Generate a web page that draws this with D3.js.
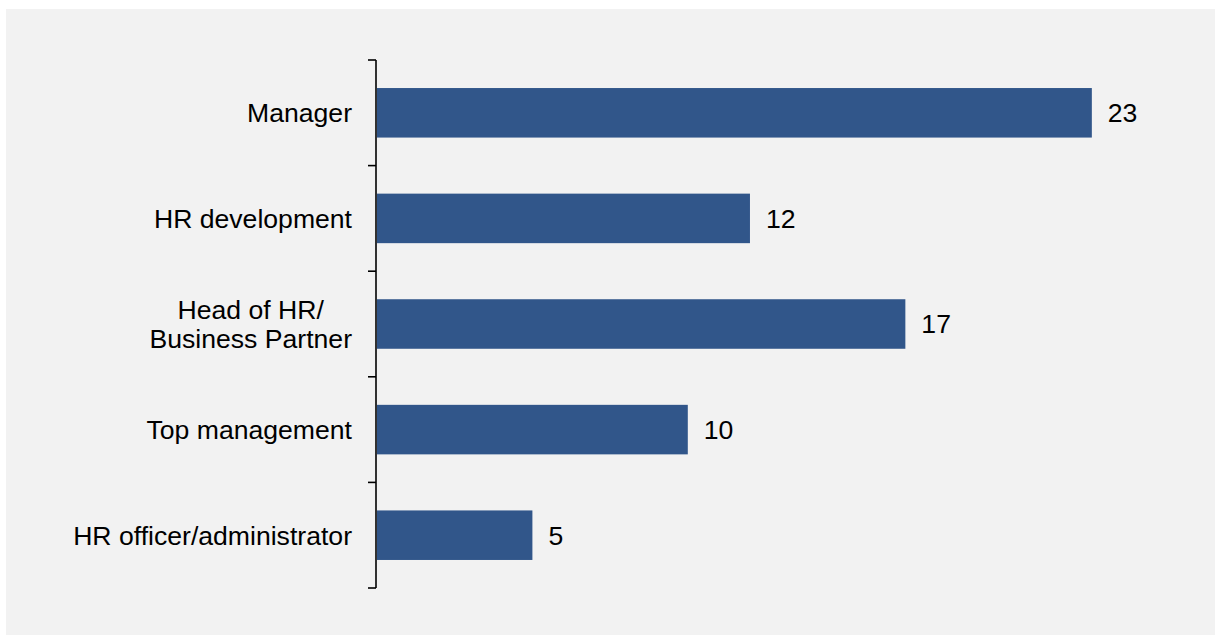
<!DOCTYPE html>
<html>
<head>
<meta charset="utf-8">
<script src="https://cdn.jsdelivr.net/npm/d3@7"></script>
<style>
  html, body { margin: 0; padding: 0; background: #ffffff; }
  svg { display: block; }
  text { font-family: "Liberation Sans", Arial, sans-serif; }
</style>
</head>
<body>
<svg id="chart" width="1218" height="635"></svg>
<script>
// Role categories (top to bottom) and their counts
const categories = [
  ["Manager"],
  ["HR development"],
  ["Head of HR/", "Business Partner"],
  ["Top management"],
  ["HR officer/administrator"]
];
const values = [23, 12, 17, 10, 5];

const W = 1218, H = 635;
const FS = 26.6;
const svg = d3.select("#chart");

// Panel background
svg.append("rect")
  .attr("x", 6).attr("y", 9)
  .attr("width", 1209).attr("height", 626)
  .attr("fill", "#f2f2f2");

const keys = categories.map(c => c.join(" "));
const plot = { left: 376, top: 60, bottom: 588 };

const y = d3.scaleBand()
  .domain(keys)
  .range([plot.top, plot.bottom])
  .paddingInner(0.531)
  .paddingOuter(0.2655);

const x = d3.scaleLinear()
  .domain([0, 25])
  .range([plot.left + 1, plot.left + 1 + 777]);

// Bars
svg.append("g").selectAll("rect")
  .data(values)
  .join("rect")
  .attr("x", x(0))
  .attr("y", (d, i) => y(keys[i]))
  .attr("width", d => x(d) - x(0))
  .attr("height", y.bandwidth())
  .attr("fill", "#31568a");

// Value labels
svg.append("g").selectAll("text")
  .data(values)
  .join("text")
  .attr("x", d => x(d) + 16)
  .attr("y", (d, i) => y(keys[i]) + y.bandwidth() / 2)
  .attr("dy", "0.35em")
  .attr("font-size", FS)
  .attr("fill", "#000")
  .text(d => d);

// Category axis: spine with ticks at band boundaries
const axis = svg.append("g");
const step = y.step();
const bounds = d3.range(keys.length + 1).map(i => plot.top + i * step);
axis.append("line")
  .attr("x1", plot.left).attr("x2", plot.left)
  .attr("y1", plot.top).attr("y2", plot.bottom)
  .attr("stroke", "#000").attr("stroke-width", 1.6);
axis.selectAll("line.tick")
  .data(bounds)
  .join("line")
  .attr("class", "tick")
  .attr("x1", plot.left - 8).attr("x2", plot.left)
  .attr("y1", d => d).attr("y2", d => d)
  .attr("stroke", "#000").attr("stroke-width", 1.6);

// Category labels, right-aligned block, lines centred within the block
const lineH = 29;
categories.forEach((lines, i) => {
  const cy = y(keys[i]) + y.bandwidth() / 2;
  const g = svg.append("g");
  const t = g.append("text")
    .attr("font-size", FS)
    .attr("fill", "#000")
    .attr("text-anchor", "middle");
  const spans = lines.map((s, j) => t.append("tspan").text(s));
  const widths = spans.map(sp => sp.node().getComputedTextLength());
  const maxW = d3.max(widths);
  const cx = 352 - maxW / 2;
  const first = cy - (lines.length - 1) * lineH / 2;
  spans.forEach((sp, j) => {
    sp.attr("x", cx).attr("y", first + j * lineH).attr("dy", "0.35em");
  });
});
</script>
</body>
</html>
